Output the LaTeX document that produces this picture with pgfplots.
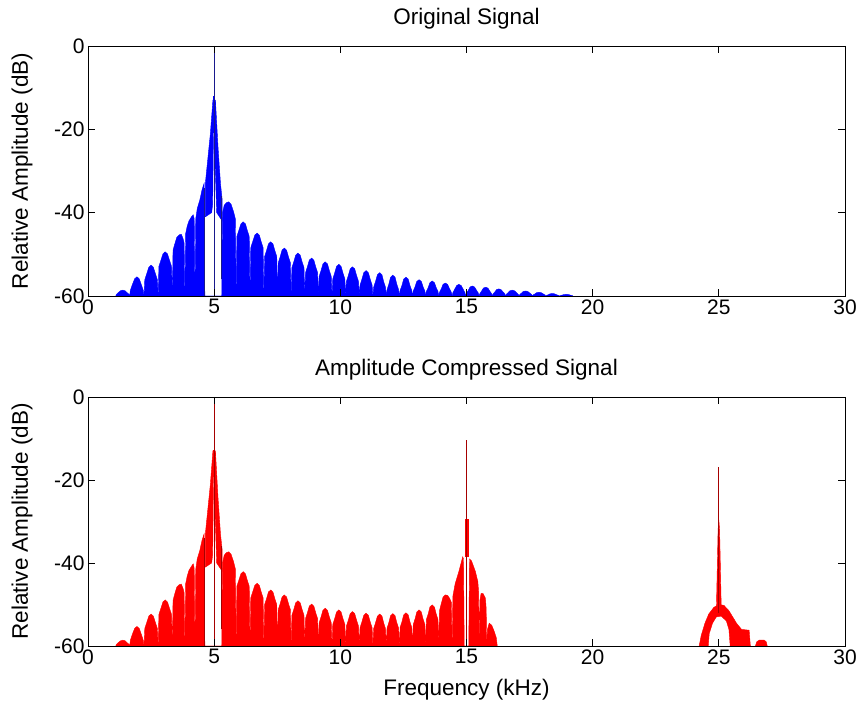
\documentclass[border=0pt]{standalone}
\usepackage{fontspec}
\setmainfont{Liberation Sans}
\usepackage{pgfplots}
\pgfplotsset{compat=1.18}
\definecolor{mblue}{rgb}{0,0,1}
\definecolor{mred}{rgb}{1,0,0}
\definecolor{dblue}{rgb}{0.1,0.1,0.55}
\definecolor{dred}{rgb}{0.65,0,0}
\begin{document}
\begin{tikzpicture}
\path[use as bounding box] (-88pt,-65pt) rectangle (775pt,646pt);
\pgfplotsset{
 mystyle/.style={
  scale only axis, width=757pt, height=250pt,
  xmin=0,xmax=30,ymin=-60,ymax=0,
  xtick={0,5,10,15,20,25,30}, xticklabels={0,5,10,15,20,25,30},
  ytick={-60,-40,-20,0}, yticklabels={-60,-40,-20,0},
  tick align=inside, major tick length=7pt,
  axis on top,
  axis line style={line width=0.8pt}, tick style={line width=0.8pt, black},
  font=\fontsize{21}{25}\selectfont,
  title style={font=\fontsize{22.5}{27}\selectfont, at={(axis description cs:0.5,1)}, anchor=center, yshift=21pt},
  ylabel style={font=\fontsize{22.5}{27}\selectfont, at={(axis description cs:-0.0872,0.5)}, anchor=center},
  xlabel style={font=\fontsize{22.5}{27}\selectfont, at={(axis description cs:0.5,0)}, anchor=center, yshift=-44pt},
  ylabel={Relative Amplitude (dB)},
  clip=true,
 }
}
\begin{axis}[mystyle, at={(0pt,350pt)}, anchor=south west, title={Original Signal}]
\addplot[draw=mblue, fill=mblue, line width=0.4pt] coordinates {
(1.1,-60)
(1.13,-59.6)(1.2,-59.2)(1.29,-58.74)(1.38,-58.6)(1.47,-58.74)(1.55,-59.2)(1.62,-59.6)(1.65,-60)
(1.68,-58.6)(1.75,-57.4)(1.85,-55.86)(1.94,-55.4)(2.03,-55.86)(2.12,-57.4)(2.19,-58.6)(2.22,-60)
(2.25,-56.1)(2.32,-54.8)(2.41,-53.1)(2.5,-52.6)(2.59,-53.1)(2.68,-54.8)(2.75,-56.1)(2.78,-60)
(2.81,-52.9)(2.88,-51.6)(2.97,-49.9)(3.06,-49.4)(3.15,-49.9)(3.24,-51.6)(3.31,-52.9)(3.34,-60)
(3.37,-49)(3.44,-47.5)(3.52,-45.9)(3.62,-45.3)(3.7,-45.2)(3.77,-46.3)(3.81,-47.3)(3.84,-60)
(3.87,-45)(3.93,-43.3)(4.0,-42)(4.1,-41)(4.17,-40.5)(4.21,-41.5)(4.24,-60)
(4.27,-41.5)(4.33,-39)(4.43,-37)(4.52,-34.5)(4.6,-33)(4.63,-60)
(5.30,-60)
(5.33,-40)(5.40,-38.2)(5.49,-37.6)(5.58,-37.4)(5.67,-38)(5.77,-39.8)(5.84,-41.5)(5.87,-60)
(5.90,-45.7)(5.97,-44.4)(6.06,-42.7)(6.15,-42.2)(6.24,-42.7)(6.32,-44.4)(6.39,-45.7)(6.42,-60)
(6.45,-48.4)(6.52,-47.1)(6.61,-45.4)(6.7,-44.9)(6.79,-45.4)(6.87,-47.1)(6.94,-48.4)(6.97,-60)
(7.0,-50.5)(7.07,-49.2)(7.15,-47.5)(7.24,-47)(7.33,-47.5)(7.41,-49.2)(7.48,-50.5)(7.51,-60)
(7.54,-52)(7.61,-50.7)(7.69,-49)(7.78,-48.5)(7.87,-49)(7.95,-50.7)(8.02,-52)(8.05,-60)
(8.08,-53.2)(8.15,-51.9)(8.23,-50.2)(8.32,-49.7)(8.41,-50.2)(8.49,-51.9)(8.56,-53.2)(8.59,-60)
(8.62,-54.4)(8.69,-53.1)(8.77,-51.4)(8.86,-50.9)(8.95,-51.4)(9.03,-53.1)(9.10,-54.4)(9.13,-60)
(9.16,-55.3)(9.23,-54)(9.31,-52.3)(9.4,-51.8)(9.49,-52.3)(9.57,-54)(9.64,-55.3)(9.67,-60)
(9.70,-55.9)(9.77,-54.6)(9.85,-52.9)(9.94,-52.4)(10.03,-52.9)(10.11,-54.6)(10.18,-55.9)(10.21,-60)
(10.24,-56.5)(10.31,-55.2)(10.39,-53.5)(10.48,-53)(10.57,-53.5)(10.65,-55.2)(10.72,-56.5)(10.75,-60)
(10.78,-57.4)(10.85,-56.1)(10.93,-54.4)(11.02,-53.9)(11.11,-54.4)(11.19,-56.1)(11.26,-57.4)(11.29,-60)
(11.32,-57.9)(11.39,-56.6)(11.47,-54.9)(11.56,-54.4)(11.65,-54.9)(11.72,-56.6)(11.79,-57.9)(11.82,-60)
(11.85,-58.5)(11.92,-57.2)(11.99,-55.5)(12.08,-55)(12.17,-55.5)(12.24,-57.2)(12.31,-58.5)(12.34,-60)
(12.37,-58.65)(12.44,-57.5)(12.51,-55.95)(12.6,-55.5)(12.69,-55.95)(12.76,-57.5)(12.83,-58.65)(12.86,-60)
(12.89,-58.8)(12.96,-57.8)(13.03,-56.5)(13.12,-56.1)(13.21,-56.5)(13.28,-57.8)(13.35,-58.8)(13.38,-60)
(13.41,-58.9)(13.48,-58)(13.55,-56.8)(13.64,-56.4)(13.73,-56.8)(13.8,-58)(13.87,-58.9)(13.9,-60)
(13.93,-59.1)(14.0,-58.3)(14.07,-57.2)(14.16,-56.9)(14.25,-57.2)(14.33,-58.3)(14.40,-59.1)(14.43,-60)
(14.46,-59.2)(14.53,-58.4)(14.61,-57.5)(14.7,-57.2)(14.79,-57.5)(14.87,-58.4)(14.94,-59.2)(14.97,-60)
(15.0,-59.3)(15.07,-58.65)(15.14,-57.85)(15.23,-57.6)(15.32,-57.85)(15.4,-58.65)(15.47,-59.3)(15.5,-60)
(15.53,-59.4)(15.6,-58.8)(15.67,-58.1)(15.76,-57.9)(15.85,-58.1)(15.92,-58.8)(15.99,-59.4)(16.02,-60)
(16.05,-59.5)(16.12,-59.05)(16.19,-58.47)(16.28,-58.3)(16.37,-58.47)(16.45,-59.05)(16.52,-59.5)(16.55,-60)
(16.58,-59.6)(16.65,-59.2)(16.72,-58.74)(16.81,-58.6)(16.9,-58.74)(16.98,-59.2)(17.05,-59.6)(17.08,-60)
(17.11,-59.65)(17.18,-59.3)(17.25,-58.92)(17.34,-58.8)(17.43,-58.92)(17.51,-59.3)(17.58,-59.65)(17.61,-60)
(17.64,-59.75)(17.71,-59.5)(17.78,-59.2)(17.87,-59.1)(17.96,-59.2)(18.04,-59.5)(18.11,-59.75)(18.14,-60)
(18.17,-59.85)(18.24,-59.7)(18.31,-59.48)(18.4,-59.4)(18.49,-59.48)(18.57,-59.7)(18.64,-59.85)(18.68,-60)
(18.71,-59.9)(18.78,-59.8)(18.86,-59.65)(18.95,-59.6)(19.04,-59.65)(19.12,-59.8)(19.19,-59.9)(19.22,-60)
};
\addplot[draw=mblue, fill=mblue, line width=0.4pt] coordinates {
(4.65,-41)(4.65,-33)(4.75,-27)(4.85,-21)(4.95,-13)(4.975,-13)(4.975,-20)(4.94,-38)(4.9,-40)(4.65,-41)
};
\addplot[draw=mblue, fill=mblue, line width=0.4pt] coordinates {
(5.025,-13)(5.05,-13)(5.15,-24)(5.25,-33)(5.32,-37)(5.32,-42)(5.1,-40)(5.035,-28)(5.025,-13)
};
\addplot[mblue, line width=2.5pt] coordinates {(5,-21)(5,-12)};
\addplot[dblue, line width=0.8pt] coordinates {(5,-60)(5,0)};
\addplot[dblue, line width=0.7pt] coordinates {(4.63,-60)(4.63,-34)};
\addplot[dblue, line width=0.7pt] coordinates {(5.28,-56)(5.28,-36)};
\end{axis}
\begin{axis}[mystyle, at={(0pt,0pt)}, anchor=south west, height=249pt, title={Amplitude Compressed Signal}, xlabel={Frequency (kHz)}]
\addplot[draw=mred, fill=mred, line width=0.4pt] coordinates {
(1.1,-60)
(1.13,-59.6)(1.2,-59.2)(1.29,-58.74)(1.38,-58.6)(1.47,-58.74)(1.55,-59.2)(1.62,-59.6)(1.65,-60)
(1.68,-58.6)(1.75,-57.3)(1.85,-55.76)(1.94,-55.3)(2.03,-55.76)(2.12,-57.3)(2.19,-58.6)(2.22,-60)
(2.25,-55.8)(2.32,-54.5)(2.41,-52.8)(2.5,-52.3)(2.59,-52.8)(2.68,-54.5)(2.75,-55.8)(2.78,-60)
(2.81,-52.4)(2.88,-51.1)(2.97,-49.4)(3.06,-48.9)(3.15,-49.4)(3.24,-51.1)(3.31,-52.4)(3.34,-60)
(3.37,-49)(3.44,-47.4)(3.52,-45.8)(3.62,-45.2)(3.7,-45.1)(3.77,-46.2)(3.81,-47.2)(3.84,-60)
(3.87,-45)(3.93,-43.2)(4.0,-41.8)(4.1,-40.8)(4.17,-40.2)(4.21,-41.3)(4.24,-60)
(4.27,-41.5)(4.33,-39)(4.43,-37)(4.52,-34.5)(4.6,-33)(4.63,-60)
(5.30,-60)
(5.33,-40)(5.40,-38.1)(5.49,-37.5)(5.58,-37.3)(5.67,-37.9)(5.77,-39.7)(5.84,-41.4)(5.87,-60)
(5.90,-45.6)(5.97,-44.3)(6.06,-42.6)(6.15,-42.1)(6.24,-42.6)(6.32,-44.3)(6.39,-45.6)(6.42,-60)
(6.45,-48.4)(6.52,-47.1)(6.61,-45.4)(6.7,-44.9)(6.79,-45.4)(6.87,-47.1)(6.94,-48.4)(6.97,-60)
(7.0,-50)(7.07,-48.7)(7.15,-47)(7.24,-46.5)(7.33,-47)(7.41,-48.7)(7.48,-50)(7.51,-60)
(7.54,-51.2)(7.61,-49.9)(7.69,-48.2)(7.78,-47.7)(7.87,-48.2)(7.95,-49.9)(8.02,-51.2)(8.05,-60)
(8.08,-52.6)(8.15,-51.3)(8.23,-49.6)(8.32,-49.1)(8.41,-49.6)(8.49,-51.3)(8.56,-52.6)(8.59,-60)
(8.62,-53.4)(8.69,-52.1)(8.77,-50.4)(8.86,-49.9)(8.95,-50.4)(9.03,-52.1)(9.10,-53.4)(9.13,-60)
(9.16,-54.4)(9.23,-53.1)(9.31,-51.4)(9.4,-50.9)(9.49,-51.4)(9.57,-53.1)(9.64,-54.4)(9.67,-60)
(9.70,-54.8)(9.77,-53.5)(9.85,-51.8)(9.94,-51.3)(10.03,-51.8)(10.11,-53.5)(10.18,-54.8)(10.21,-60)
(10.24,-55.2)(10.31,-53.9)(10.39,-52.2)(10.48,-51.7)(10.57,-52.2)(10.65,-53.9)(10.72,-55.2)(10.75,-60)
(10.78,-55.6)(10.85,-54.3)(10.93,-52.6)(11.02,-52.1)(11.11,-52.6)(11.19,-54.3)(11.26,-55.6)(11.29,-60)
(11.32,-55.8)(11.39,-54.5)(11.47,-52.8)(11.56,-52.3)(11.65,-52.8)(11.72,-54.5)(11.79,-55.8)(11.82,-60)
(11.85,-55.7)(11.92,-54.4)(11.99,-52.7)(12.08,-52.2)(12.17,-52.7)(12.24,-54.4)(12.31,-55.7)(12.34,-60)
(12.37,-55.5)(12.44,-54.2)(12.51,-52.5)(12.6,-52)(12.69,-52.5)(12.76,-54.2)(12.83,-55.5)(12.86,-60)
(12.89,-54.8)(12.96,-53.5)(13.03,-51.8)(13.12,-51.3)(13.21,-51.8)(13.28,-53.5)(13.35,-54.8)(13.38,-60)
(13.41,-53.6)(13.48,-52.3)(13.55,-50.6)(13.64,-50.1)(13.73,-50.6)(13.8,-52.3)(13.87,-53.6)(13.9,-60)
(13.93,-51.5)(14.0,-49.8)(14.07,-48.2)(14.16,-47.7)(14.25,-47.8)(14.33,-48.5)(14.40,-49.5)(14.43,-60)
(14.46,-48)(14.55,-45)(14.7,-42)(14.85,-38.5)(14.88,-39)(14.91,-60)
(15.09,-60)
(15.12,-39)(15.2,-39.5)(15.35,-42)(15.45,-44.5)(15.48,-47)(15.5,-60)
(15.53,-49)(15.58,-47.3)(15.65,-47.3)(15.75,-48.5)(15.78,-51)(15.8,-60)
(15.83,-56)(15.9,-54.5)(16.0,-55)(16.1,-56.5)(16.18,-58)(16.22,-60)
};
\addplot[draw=mred, fill=mred, line width=0.4pt] coordinates {
(4.65,-41)(4.65,-33)(4.75,-27)(4.85,-21)(4.95,-13)(4.975,-13)(4.975,-20)(4.94,-38)(4.9,-40)(4.65,-41)
};
\addplot[draw=mred, fill=mred, line width=0.4pt] coordinates {
(5.025,-13)(5.05,-13)(5.15,-24)(5.25,-33)(5.32,-37)(5.32,-42)(5.1,-40)(5.035,-28)(5.025,-13)
};
\addplot[mred, line width=2.5pt] coordinates {(5,-19.3)(5,-12.8)};
\addplot[dred, line width=0.8pt] coordinates {(5,-60)(5,0)};
\addplot[dred, line width=0.7pt] coordinates {(4.63,-60)(4.63,-34)};
\addplot[dred, line width=0.7pt] coordinates {(5.28,-56)(5.28,-36)};
\addplot[mred, line width=4pt] coordinates {(15,-38.5)(15,-29.5)};
\addplot[dred, line width=0.8pt] coordinates {(15,-60)(15,-10.4)};
\addplot[draw=mred, fill=mred, line width=0.4pt] coordinates {
(24.22,-60)(24.3,-57.5)(24.45,-54.5)(24.6,-52.3)(24.8,-50.7)(25.0,-50)(25.2,-50.2)
(25.4,-51.5)(25.55,-53)(25.7,-54.5)(25.9,-56)(26.2,-56.2)(26.25,-60)
(25.45,-60)(25.4,-56)(25.3,-54)(25.1,-52.8)(24.9,-53)(24.75,-54.5)(24.62,-57)(24.58,-60)
};
\addplot[draw=mred, fill=mred, line width=0.4pt] coordinates {
(24.9,-52)(24.97,-32)(25.0,-29.6)(25.03,-32)(25.1,-52)
};
\addplot[dred, line width=0.8pt] coordinates {(25,-52)(25,-16.8)};
\addplot[draw=mred, fill=mred, line width=0.4pt] coordinates {
(26.45,-60)(26.5,-59)(26.6,-58.6)(26.8,-58.6)(26.88,-59)(26.92,-60)
};
\end{axis}
\end{tikzpicture}
\end{document}
